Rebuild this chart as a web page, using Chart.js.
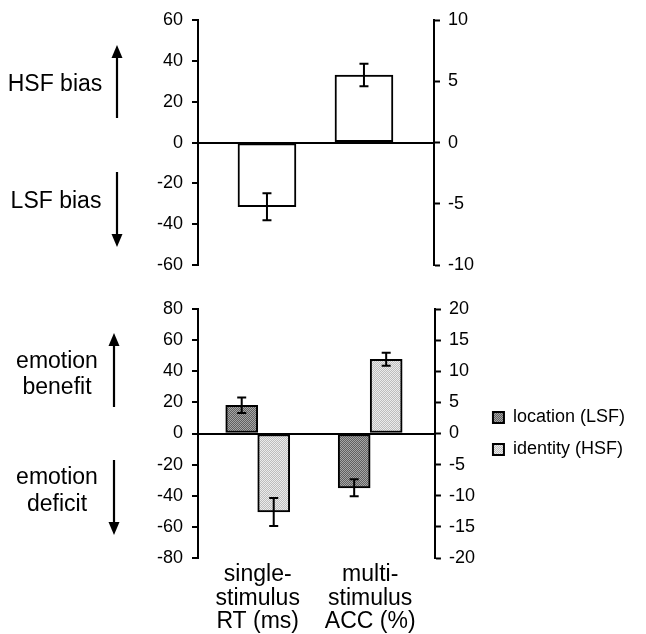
<!DOCTYPE html>
<html>
<head>
<meta charset="utf-8">
<script src="https://cdn.jsdelivr.net/npm/chart.js@4.4.0/dist/chart.umd.min.js"></script>
<style>
  body { margin: 0; background: #fff; }
  #wrap { position: relative; width: 646px; height: 634px; }
  canvas { position: absolute; left: 0; }
  #topChart { top: 0; }
  #bottomChart { top: 289px; }
</style>
</head>
<body>
<div id="wrap">
  <canvas id="topChart" width="646" height="285"></canvas>
  <canvas id="bottomChart" width="646" height="345"></canvas>
</div>
<script>
// data (top panel: bias, left-axis units)
const biasCategories = ['single-stimulus RT (ms)', 'multi-stimulus ACC (%)'];
const biasValues = [-31.4, 33.1];
const biasErrors = [6.6, 5.5];

// data (bottom panel: emotion effect)
const effectCategories = [['single-', 'stimulus', 'RT (ms)'], ['multi-', 'stimulus', 'ACC (%)']];
const seriesNames = ['location (LSF)', 'identity (HSF)'];
const locationValues = [18.1, -34.9];
const locationErrors = [5, 5.5];
const identityValues = [-50.4, 47.7];
const identityErrors = [9, 4.2];

Chart.defaults.font.family = "'Liberation Sans', Arial, sans-serif";
Chart.defaults.color = '#000';

// dotted grey fill like the printed original
function checker(c1, c2) {
  const pc = document.createElement('canvas');
  pc.width = 2; pc.height = 2;
  const p = pc.getContext('2d');
  p.fillStyle = c1; p.fillRect(0, 0, 2, 2);
  p.fillStyle = c2; p.fillRect(0, 0, 1, 1); p.fillRect(1, 1, 1, 1);
  return p.createPattern(pc, 'repeat');
}

// error bars drawn from the errors array of each dataset
const errorBars = {
  id: 'errorBars',
  afterDatasetsDraw(chart) {
    const ctx = chart.ctx;
    const yScale = chart.scales.y;
    ctx.save();
    ctx.strokeStyle = '#000';
    ctx.lineWidth = 2;
    chart.data.datasets.forEach((ds, di) => {
      const meta = chart.getDatasetMeta(di);
      meta.data.forEach((bar, i) => {
        const v = ds.data[i].y;
        const e = ds.errors[i];
        const top = yScale.getPixelForValue(v + e);
        const bot = yScale.getPixelForValue(v - e);
        ctx.beginPath();
        ctx.moveTo(bar.x, top); ctx.lineTo(bar.x, bot);
        ctx.moveTo(bar.x - 4.5, top); ctx.lineTo(bar.x + 4.5, top);
        ctx.moveTo(bar.x - 4.5, bot); ctx.lineTo(bar.x + 4.5, bot);
        ctx.stroke();
      });
    });
    ctx.restore();
  }
};

// side notes: text plus up/down arrows left of the axis
const sideNotes = {
  id: 'sideNotes',
  afterDraw(chart, args, opts) {
    const ctx = chart.ctx;
    ctx.save();
    ctx.fillStyle = '#000';
    ctx.strokeStyle = '#000';
    ctx.font = "23px 'Liberation Sans', Arial, sans-serif";
    ctx.textAlign = 'center';
    ctx.textBaseline = 'middle';
    (opts.texts || []).forEach(t => ctx.fillText(t.text, t.x, t.y));
    ctx.lineWidth = 2.2;
    (opts.arrows || []).forEach(a => {
      const dir = a.to < a.from ? -1 : 1;
      ctx.beginPath();
      ctx.moveTo(a.x, a.from);
      ctx.lineTo(a.x, a.to - dir * 10);
      ctx.stroke();
      ctx.beginPath();
      ctx.moveTo(a.x, a.to);
      ctx.lineTo(a.x - 5.5, a.to - dir * 13);
      ctx.lineTo(a.x + 5.5, a.to - dir * 13);
      ctx.closePath();
      ctx.fill();
    });
    ctx.restore();
  }
};

function yLeft(min, max, step) {
  return {
    position: 'left', min: min, max: max,
    afterFit: s => { s.width = 60; },
    ticks: { stepSize: step, padding: 9, font: { size: 18 }, color: '#000' },
    border: { display: true, color: '#000', width: 2 },
    grid: {
      color: c => c.tick.value === 0 ? '#000' : 'rgba(0,0,0,0)',
      lineWidth: 2, tickColor: '#000', tickWidth: 2, tickLength: 6
    }
  };
}

function yRight(min, max, step) {
  return {
    position: 'right', min: min, max: max,
    afterFit: s => { s.width = 44; },
    ticks: { stepSize: step, padding: 8, font: { size: 18 }, color: '#000' },
    border: { display: true, color: '#000', width: 2 },
    grid: { drawOnChartArea: false, tickColor: '#000', tickWidth: 2, tickLength: 6 }
  };
}

new Chart(document.getElementById('topChart'), {
  type: 'bar',
  data: {
    labels: biasCategories,
    datasets: [{
      label: 'bias',
      data: biasValues.map((v, i) => ({ x: i, y: v })),
      errors: biasErrors,
      backgroundColor: '#fff',
      borderColor: '#000',
      borderWidth: 2,
      borderSkipped: false,
      barThickness: 58
    }]
  },
  options: {
    responsive: false,
    animation: false,
    layout: { padding: { left: 138, right: 168, top: 20, bottom: 13 } },
    plugins: {
      legend: { display: false },
      tooltip: { enabled: false },
      sideNotes: {
        texts: [{ text: 'HSF bias', x: 55, y: 85 }, { text: 'LSF bias', x: 56, y: 202 }],
        arrows: [{ x: 117, from: 118, to: 45 }, { x: 117, from: 172, to: 247 }]
      }
    },
    scales: {
      x: { type: 'linear', min: -0.711, max: 1.722, offset: false, display: false },
      y: yLeft(-60, 60, 20),
      y2: yRight(-10, 10, 5)
    }
  },
  plugins: [errorBars, sideNotes]
});

new Chart(document.getElementById('bottomChart'), {
  type: 'bar',
  data: {
    labels: effectCategories,
    datasets: [{
      label: seriesNames[0],
      data: locationValues.map((v, i) => ({ x: i, y: v })),
      errors: locationErrors,
      backgroundColor: checker('#a6a6a6', '#606060'),
      borderColor: '#000',
      borderWidth: 2,
      borderSkipped: false,
      barThickness: 32
    }, {
      label: seriesNames[1],
      data: identityValues.map((v, i) => ({ x: i, y: v })),
      errors: identityErrors,
      backgroundColor: checker('#ececec', '#bdbdbd'),
      borderColor: '#000',
      borderWidth: 2,
      borderSkipped: false,
      barThickness: 32
    }]
  },
  options: {
    responsive: false,
    animation: false,
    layout: { padding: { left: 138, right: 11, top: 20, bottom: 0 } },
    plugins: {
      legend: {
        position: 'right', align: 'center', fullSize: false, maxWidth: 160,
        labels: { boxWidth: 11, boxHeight: 11, padding: 14, font: { size: 18 }, color: '#000' }
      },
      tooltip: { enabled: false },
      sideNotes: {
        texts: [
          { text: 'emotion', x: 57, y: 73 }, { text: 'benefit', x: 57, y: 99 },
          { text: 'emotion', x: 57, y: 189 }, { text: 'deficit', x: 57, y: 216 }
        ],
        arrows: [{ x: 114, from: 118, to: 44 }, { x: 114, from: 171, to: 246 }]
      }
    },
    scales: {
      x: {
        type: 'linear', min: -0.531, max: 1.576, offset: false,
        afterFit: s => { s.height = 76; },
        afterBuildTicks: s => { s.ticks = effectCategories.map((c, i) => ({ value: i })); },
        ticks: {
          callback: v => effectCategories[v],
          font: { size: 23, lineHeight: 1.02 }, color: '#000',
          padding: 5, maxRotation: 0, autoSkip: false
        },
        border: { display: false },
        grid: { display: false, drawTicks: false }
      },
      y: yLeft(-80, 80, 20),
      y2: yRight(-20, 20, 5)
    }
  },
  plugins: [errorBars, sideNotes]
});
</script>
</body>
</html>
